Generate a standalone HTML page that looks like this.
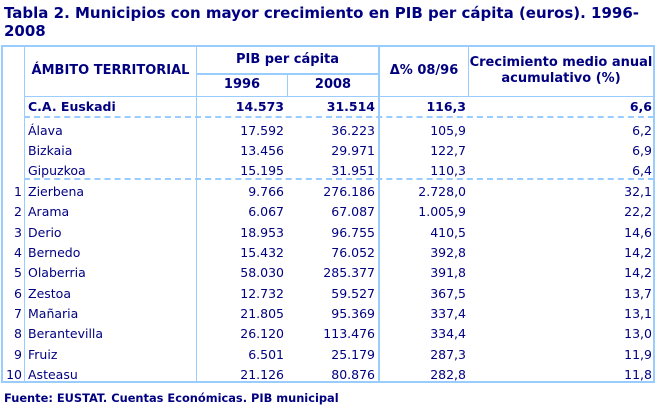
<!DOCTYPE html>
<html><head><meta charset="utf-8"><style>
body{margin:0;width:657px;height:410px;background:#fff;position:relative;overflow:hidden;font-family:"DejaVu Sans","Liberation Sans",sans-serif;color:#000080}
.a{position:absolute;white-space:nowrap}
.t{font-size:15px;font-weight:bold;left:4px}
.h{position:absolute;background:#99ccff}
.d{position:absolute;height:0;border-top:2px dashed #99ccff}
.r{position:absolute;font-size:12.5px;height:20px;line-height:20px;white-space:nowrap}
.b{font-weight:bold}
.hd{position:absolute;font-size:13px;font-weight:bold;text-align:center;line-height:16px;white-space:nowrap}
</style></head><body>
<div class="a t" style="top:4px;line-height:18px">Tabla 2. Municipios con mayor crecimiento en PIB per cápita (euros). 1996-<br>2008</div>

<div class="h" style="left:1px;top:45px;width:654px;height:2px"></div>
<div class="h" style="left:1px;top:381px;width:654px;height:2px"></div>
<div class="h" style="left:1px;top:45px;width:2px;height:338px"></div>
<div class="h" style="left:653px;top:45px;width:2px;height:338px"></div>
<div class="h" style="left:24px;top:45px;width:1px;height:338px"></div>
<div class="h" style="left:196px;top:45px;width:1px;height:338px"></div>
<div class="h" style="left:287px;top:73px;width:1px;height:23px"></div>
<div class="h" style="left:378px;top:45px;width:2px;height:338px"></div>
<div class="h" style="left:468px;top:45px;width:1px;height:52px"></div>
<div class="h" style="left:196px;top:73px;width:183px;height:2px"></div>
<div class="h" style="left:24px;top:96px;width:631px;height:1px"></div>
<div class="d" style="left:24px;top:116px;width:630px"></div>
<div class="d" style="left:24px;top:178px;width:630px"></div>

<div class="hd" style="left:25px;top:63px;width:171px">ÁMBITO TERRITORIAL</div>
<div class="hd" style="left:197px;top:52px;width:181px">PIB per cápita</div>
<div class="hd" style="left:197px;top:77px;width:90px">1996</div>
<div class="hd" style="left:288px;top:77px;width:90px">2008</div>
<div class="hd" style="left:380px;top:63px;width:88px">Δ% 08/96</div>
<div class="hd" style="left:469px;top:55px;width:184px">Crecimiento medio anual<br>acumulativo (%)</div>

<div id="rows"></div>
<script>
var rows=[
["","C.A. Euskadi","14.573","31.514","116,3","6,6",97,1],
["","Álava","17.592","36.223","105,9","6,2",121],
["","Bizkaia","13.456","29.971","122,7","6,9",141],
["","Gipuzkoa","15.195","31.951","110,3","6,4",161],
["1","Zierbena","9.766","276.186","2.728,0","32,1",182],
["2","Arama","6.067","67.087","1.005,9","22,2",202],
["3","Derio","18.953","96.755","410,5","14,6",222.5],
["4","Bernedo","15.432","76.052","392,8","14,2",243],
["5","Olaberria","58.030","285.377","391,8","14,2",263],
["6","Zestoa","12.732","59.527","367,5","13,7",283.5],
["7","Mañaria","21.805","95.369","337,4","13,1",304],
["8","Berantevilla","26.120","113.476","334,4","13,0",324],
["9","Fruiz","6.501","25.179","287,3","11,9",344.5],
["10","Asteasu","21.126","80.876","282,8","11,8",365]];
var h="";
rows.forEach(function(r){var t=r[6],c=r[7]?" b":"";
h+='<div class="r'+c+'" style="left:3px;width:19px;text-align:right;top:'+t+'px">'+r[0]+'</div>';
h+='<div class="r'+c+'" style="left:28px;top:'+t+'px">'+r[1]+'</div>';
h+='<div class="r'+c+'" style="left:197px;width:87px;text-align:right;top:'+t+'px">'+r[2]+'</div>';
h+='<div class="r'+c+'" style="left:288px;width:87px;text-align:right;top:'+t+'px">'+r[3]+'</div>';
h+='<div class="r'+c+'" style="left:380px;width:86px;text-align:right;top:'+t+'px">'+r[4]+'</div>';
h+='<div class="r'+c+'" style="left:469px;width:183px;text-align:right;top:'+t+'px">'+r[5]+'</div>';});
document.getElementById("rows").innerHTML=h;
</script>
<div class="a b" style="left:4px;top:391px;font-size:11.4px">Fuente: EUSTAT. Cuentas Económicas. PIB municipal</div>
</body></html>
